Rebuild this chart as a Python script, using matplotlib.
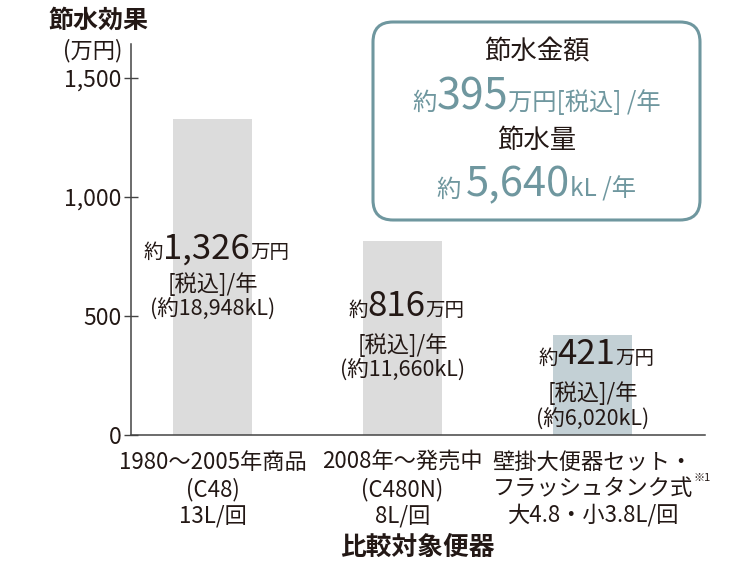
import matplotlib
matplotlib.use("Agg")
import matplotlib.pyplot as plt
from matplotlib.offsetbox import TextArea, HPacker, AnnotationBbox
from matplotlib.patches import FancyBboxPatch

plt.rcParams['font.family'] = ['Noto Sans CJK JP', 'DejaVu Sans']

# data
categories = ["1980～2005年商品\n(C48)\n13L/回",
              "2008年～発売中\n(C480N)\n8L/回",
              "壁掛大便器セット・\nフラッシュタンク式\n大4.8・小3.8L/回"]
savings_man_yen = [1326, 816, 421]
savings_kl = [18948, 11660, 6020]
yticks = [0, 500, 1000, 1500]
total_yen = 395
total_kl = 5640

# styling
ink = '#231815'
teal = '#6f979f'
bar_colors = ['#dcdcdc', '#dcdcdc', '#c3d0d5']
label_y = [(709, 636, 528), (466, 376, 268), (264, 174, 66)]  # layout only

fig = plt.figure(figsize=(7.5, 5.63), dpi=100)
ax = fig.add_axes([0.1747, 0.2274, 0.7653, 0.6945])

x = range(len(categories))
ax.bar(x, savings_man_yen, width=0.416, color=bar_colors, zorder=1)

ax.set_xlim(-0.429, 2.592)
ax.set_ylim(0, 1643)
ax.set_yticks(yticks)
ax.set_yticklabels([f"{v:,}" for v in yticks], fontsize=16.5, color=ink)
ax.tick_params(axis='y', direction='inout', length=10, width=1, color='#444444', pad=2)
ax.set_xticks([])
for s in ['top', 'right']:
    ax.spines[s].set_visible(False)
ax.spines['left'].set_color('#444444')
ax.spines['bottom'].set_color('#444444')
ax.spines['left'].set_linewidth(1.1)
ax.spines['bottom'].set_linewidth(1.1)


def mixed(parts, xy, xycoords, target, align=(0.5, 0)):
    boxes = [TextArea(t, textprops=dict(fontsize=fs, color=c)) for t, fs, c in parts]
    pack = HPacker(children=boxes, align='baseline', pad=0, sep=0)
    ab = AnnotationBbox(pack, xy, xycoords=xycoords, box_alignment=align,
                        frameon=False, pad=0, annotation_clip=False, zorder=6)
    target.add_artist(ab)


# bar labels
for i, (v, kl) in enumerate(zip(savings_man_yen, savings_kl)):
    y1, y2, y3 = label_y[i]
    mixed([("約", 14, ink), (f"{v:,}", 25, ink), ("万円", 14, ink)], (i + 0.02, y1), 'data', ax)
    ax.text(i, y2, "[税込]/年", ha='center', va='center', fontsize=16, color=ink)
    ax.text(i, y3, f"(約{kl:,}kL)", ha='center', va='center', fontsize=15.5, color=ink)

# category labels
for i, c in enumerate(categories):
    ax.text(i, -0.04, c, transform=ax.get_xaxis_transform(), ha='center', va='top',
            fontsize=16, color=ink, linespacing=1.2)
ax.text(2.53, -0.11, "※1", transform=ax.get_xaxis_transform(), ha='left', va='center',
        fontsize=8, color=ink)

fig.text(0.556, 0.028, "比較対象便器", ha='center', va='center', fontsize=18.5,
         fontweight='bold', color=ink)
fig.text(0.064, 0.964, "節水効果", ha='left', va='center', fontsize=18,
         fontweight='bold', color=ink)
fig.text(0.163, 0.911, "(万円)", ha='right', va='center', fontsize=16, color=ink)

# summary box
box = FancyBboxPatch((3.73, 3.43), 3.27, 1.98, boxstyle="round,pad=0,rounding_size=0.2",
                     transform=fig.dpi_scale_trans, facecolor='white', edgecolor=teal,
                     linewidth=2.2, zorder=1)
fig.patches.append(box)
fig.text(0.7153, 0.9076, "節水金額", ha='center', va='center', fontsize=19, color=ink, zorder=6)
mixed([("約", 17.5, teal), (f"{total_yen}", 31, teal), ("万円[税込] /年", 17.5, teal)],
      (0.7153, 0.826), 'figure fraction', fig, align=(0.5, 0.5))
fig.text(0.7153, 0.751, "節水量", ha='center', va='center', fontsize=19, color=ink, zorder=6)
mixed([("約 ", 17.5, teal), (f"{total_kl:,}", 30, teal), ("kL /年", 17.5, teal)],
      (0.7153, 0.671), 'figure fraction', fig, align=(0.5, 0.5))

fig.savefig("out.png", dpi=100)
